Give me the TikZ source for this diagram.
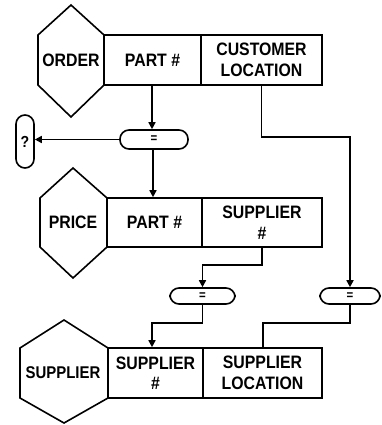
\documentclass[tikz,border=0pt]{standalone}
\usepackage{fontspec}
\setmainfont[FakeStretch=0.88]{Liberation Sans}
\usetikzlibrary{arrows.meta}
\begin{document}
\begin{tikzpicture}[x=1pt,y=-1pt,
  line width=1.6pt,
  lbl/.style={font=\fontsize{18}{20.5}\selectfont\bfseries, align=center, inner sep=0pt},
  cell/.style={draw, rectangle, inner sep=0pt, font=\fontsize{18}{20.5}\selectfont\bfseries, align=center},
  pill/.style={draw, rectangle, rounded corners=9pt, inner sep=0pt, font=\fontsize{13}{13}\selectfont\bfseries},
  arr/.style={-{Triangle[length=7pt,width=7pt]}}
]
\useasboundingbox (0,0) rectangle (381,425);
% hexagons
\draw (71,5) -- (38,35) -- (38,85) -- (71,117) -- (104,85) -- (104,35) -- cycle;
\draw (73,168) -- (40,198) -- (40,247) -- (73,278) -- (107,247) -- (107,198) -- cycle;
\draw (64,320) -- (20,348) -- (20,398) -- (64,423) -- (108,398) -- (108,348) -- cycle;
\node[lbl] (h1) at (71,60) {ORDER};
\node[lbl] (h2) at (73,222.5) {PRICE};
\node[lbl, font=\fontsize{17}{20}\selectfont\bfseries] (h3) at (63,373) {SUPPLIER};
% row 1
\node[cell, minimum width=97pt, minimum height=50pt] (r1a) at (152.5,60) {PART \#};
\node[cell, minimum width=121pt, minimum height=50pt] (r1b) at (261.5,60) {CUSTOMER\\LOCATION};
% row 2
\node[cell, minimum width=95pt, minimum height=49pt] (r2a) at (154.5,222.5) {PART \#};
\node[cell, minimum width=120pt, minimum height=49pt] (r2b) at (262,222.5) {SUPPLIER\\\#};
% row 3
\node[cell, minimum width=95pt, minimum height=50pt] (r3a) at (155.5,373) {SUPPLIER\\\#};
\node[cell, minimum width=119pt, minimum height=50pt] (r3b) at (262.5,373) {SUPPLIER\\LOCATION};
% pills
\node[pill, minimum width=68pt, minimum height=19pt] (o1) at (154,139.5) {=};
\node[pill, minimum width=65pt, minimum height=16pt] (o2) at (202.5,296) {=};
\node[pill, minimum width=60pt, minimum height=16pt] (o3) at (350,296) {=};
\node[pill, minimum width=18pt, minimum height=53pt, font=\fontsize{16}{16}\selectfont\bfseries] (q) at (25,141.5) {?};
% bend points
\coordinate (k1) at (350,137);
\coordinate (k2) at (202.5,265);
\coordinate (k3) at (152,323);
\coordinate (k4) at (263,323);
% connectors
\draw[arr] (r1a.south -| 152,0) -- (152,0 |- o1.north);
\draw[arr] (o1.west) -- (o1.west -| q.east);
\draw[arr] (o1.south -| 153,0) -- (153,0 |- r2a.north);
\draw[arr] (r1b.south) |- (k1) -- (o3.north);
\draw[arr] (r2b.south) |- (k2) -- (o2.north);
\draw[arr] (o2.south) |- (k3) -- (k3 |- r3a.north);
\draw (o3.south) |- (k4) -- (k4 |- r3b.north);
\end{tikzpicture}
\end{document}
